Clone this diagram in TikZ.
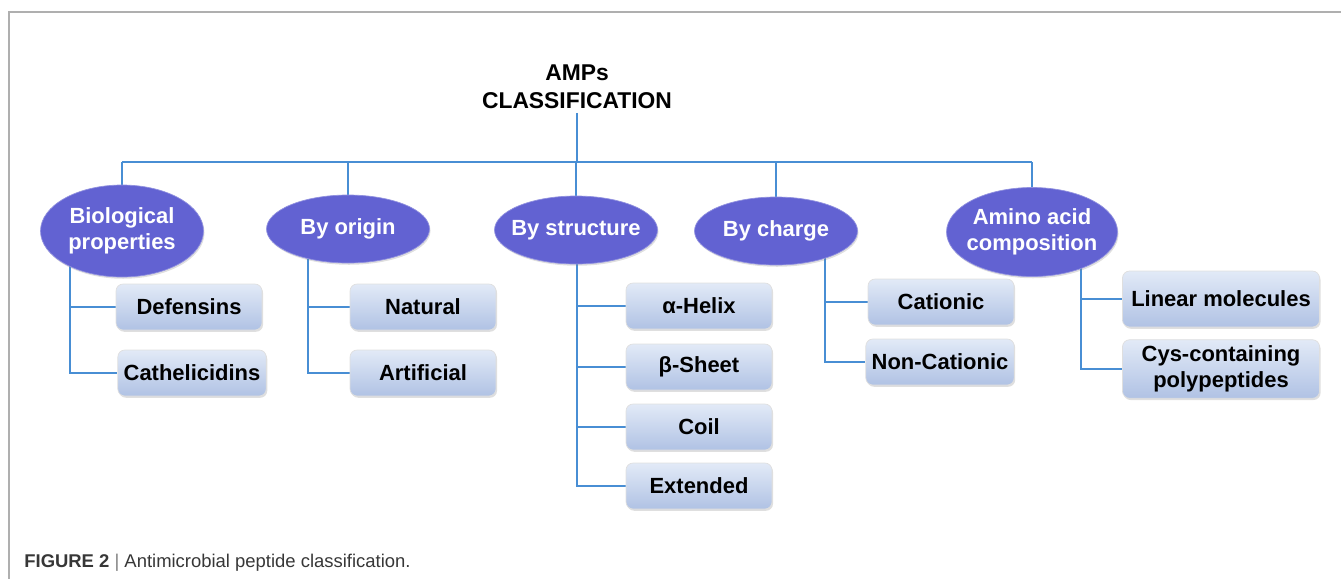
\documentclass[tikz,border=0pt]{standalone}
\usepackage{fontspec}
\setmainfont{Liberation Sans}
\usepackage{tikz}
\usetikzlibrary{shapes.geometric, shadows, backgrounds}
\usepackage{xcolor}
\definecolor{catBlue}{RGB}{98, 98, 210}
\definecolor{linkBlue}{RGB}{72, 142, 212}
\definecolor{boxTop}{RGB}{226, 234, 247}
\definecolor{boxBot}{RGB}{176, 194, 228}
\definecolor{frameGray}{RGB}{175, 175, 175}
\definecolor{capText}{RGB}{55, 55, 55}

\begin{document}
\begin{tikzpicture}[
  x=0.02cm, y=-0.02cm,
  cat/.style={ellipse, fill=catBlue, draw=catBlue!70!white, text=white,
              minimum width=3.26cm, minimum height=1.36cm, inner xsep=-0.25cm,
              align=center, font=\bfseries\fontsize{12.5}{15}\selectfont,
              drop shadow={opacity=0.25, shadow xshift=0.6pt, shadow yshift=-1pt}},
  sub/.style={draw=white!75!gray, rounded corners=4pt, top color=boxTop,
              bottom color=boxBot, minimum width=2.92cm, minimum height=0.92cm,
              align=center, font=\bfseries\fontsize{12.5}{15}\selectfont,
              drop shadow={opacity=0.25, shadow xshift=0.6pt, shadow yshift=-1pt}},
  link/.style={draw=linkBlue, line width=1.1pt}
]
  \useasboundingbox (0,0) rectangle (1341,579);
  \draw[frameGray, line width=0.7pt] (1341,12) -- (9,12) -- (9,579);

  % root
  \node[font=\bfseries\fontsize{13}{16}\selectfont, align=center, inner sep=2pt]
    (title) at (577,87) {AMPs\\CLASSIFICATION};

  % categories
  \node[cat, minimum height=1.84cm] (bio) at (122,231) {Biological\\properties};
  \node[cat] (origin) at (348,229) {By origin};
  \node[cat] (struct) at (576,230) {By structure};
  \node[cat] (charge) at (776,231) {By charge};
  \node[cat, minimum width=3.42cm, minimum height=1.78cm] (amino) at (1032,232)
    {Amino acid\\composition};

  % sub-classes
  \node[sub] (def)  at (189,307) {Defensins};
  \node[sub] (cath) at (192,373) {Cathelicidins};
  \node[sub] (nat)  at (423,307) {Natural};
  \node[sub] (art)  at (423,373) {Artificial};
  \node[sub] (helix) at (699,306) {α-Helix};
  \node[sub] (sheet) at (699,367) {β-Sheet};
  \node[sub] (coil)  at (699,427) {Coil};
  \node[sub] (ext)   at (699,486) {Extended};
  \node[sub] (cation)  at (941,302) {Cationic};
  \node[sub] (ncation) at (940,362) {Non-Cationic};
  \node[sub, minimum width=3.94cm, minimum height=1.12cm] (lin) at (1221,299)
    {Linear molecules};
  \node[sub, minimum width=3.94cm, minimum height=1.12cm] (cys) at (1221,369)
    {Cys-containing\\polypeptides};

  % connectors
  \begin{scope}[on background layer]
    \coordinate (bus) at (122,162);
    \draw[link] (title.south) -- (title.south |- bus);
    \draw[link] (bio.north |- bus) -- (amino.north |- bus);
    \foreach \c in {bio, origin, struct, charge, amino}
      \draw[link] (\c.north |- bus) -- (\c.north);

    \coordinate (bioT)    at (70,250);
    \coordinate (originT) at (308,245);
    \coordinate (structT) at (577,245);
    \coordinate (chargeT) at (825,245);
    \coordinate (aminoT)  at (1081,250);
    \foreach \t/\b in {bioT/def, bioT/cath, originT/nat, originT/art,
                       structT/helix, structT/sheet, structT/coil, structT/ext,
                       chargeT/cation, chargeT/ncation, aminoT/lin, aminoT/cys}
      \draw[link] (\t) |- (\b.west);
  \end{scope}

  % caption
  \node[anchor=west, inner sep=0pt, text=capText, font=\fontsize{10.5}{12}\selectfont]
    (cap) at (24,563)
    {\textbf{FIGURE 2} \textcolor{gray}{|} Antimicrobial peptide classification.};
\end{tikzpicture}
\end{document}
